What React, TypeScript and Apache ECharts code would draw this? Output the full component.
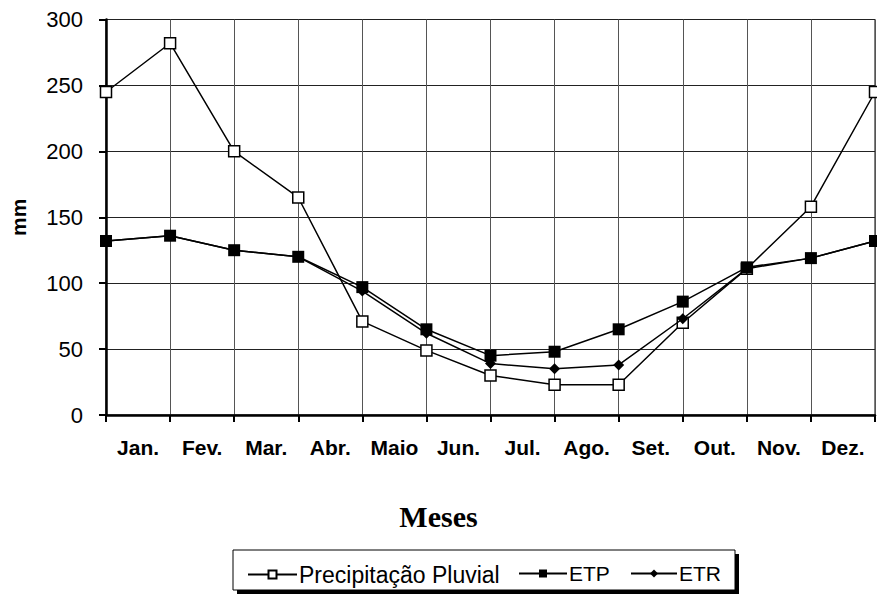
import React, { useEffect, useRef } from "react";
import * as echarts from "echarts";

const months = ["Jan.", "Fev.", "Mar.", "Abr.", "Maio", "Jun.", "Jul.", "Ago.", "Set.", "Out.", "Nov.", "Dez."];
// 13 plotted points: one at each boundary line (last one closes the year)
const pointCategories = [...months, "Jan.*"];
const precipitacao = [245, 282, 200, 165, 71, 49, 30, 23, 23, 70, 111, 158, 245];
const etp = [132, 136, 125, 120, 97, 65, 45, 48, 65, 86, 112, 119, 132];
const etr = [132, 136, 125, 120, 94, 62, 39, 35, 38, 73, 111, 119, 132];
const yMin = 0;
const yMax = 300;
const yInterval = 50;

const SANS = "Liberation Sans, Arial, sans-serif";

export default function App() {
  const ref = useRef<HTMLDivElement>(null);

  useEffect(() => {
    if (!ref.current) return;
    const chart = echarts.init(ref.current, undefined, { renderer: "svg" });
    const lineStyle = { color: "#000", width: 1.5 };
    const legendText = { fontFamily: SANS, fontSize: 21, color: "#000", padding: [0, 0, 0, -3] };
    chart.setOption({
      animation: false,
      backgroundColor: "#fff",
      title: {
        text: "Meses",
        left: "center",
        top: 496,
        textStyle: { fontFamily: "Liberation Serif, Times New Roman, serif", fontWeight: "bold", fontSize: 30, color: "#000" },
      },
      grid: { left: 104, right: 2, top: 19.5, bottom: 181, show: true, borderColor: "#000", borderWidth: 1 },
      xAxis: [
        {
          type: "category",
          data: pointCategories,
          boundaryGap: false,
          position: "bottom",
          axisLine: { show: true, lineStyle: { color: "#000", width: 2.5 } },
          axisTick: { show: true, length: 7, lineStyle: { color: "#000", width: 2 } },
          axisLabel: { show: false },
          splitLine: { show: true, lineStyle: { color: "#555", width: 1 } },
        },
        {
          type: "category",
          data: months,
          boundaryGap: true,
          position: "bottom",
          axisLine: { show: false },
          axisTick: { show: false },
          splitLine: { show: false },
          axisLabel: {
            interval: 0,
            margin: 22,
            color: "#000",
            fontFamily: SANS,
            fontWeight: "bold",
            fontSize: 21,
          },
        },
      ],
      yAxis: {
        type: "value",
        min: yMin,
        max: yMax,
        interval: yInterval,
        name: "mm",
        nameLocation: "middle",
        nameGap: 77,
        nameTextStyle: { fontFamily: SANS, fontWeight: "bold", fontSize: 21, color: "#000" },
        axisLine: { show: true, lineStyle: { color: "#000", width: 2.5 } },
        axisTick: { show: true, length: 7, lineStyle: { color: "#000", width: 2 } },
        axisLabel: { margin: 23, color: "#000", fontFamily: SANS, fontSize: 22 },
        splitLine: { show: true, lineStyle: { color: "#222", width: 1 } },
      },
      graphic: [
        { type: "rect", z: 0, shape: { x: 237, y: 554, width: 502, height: 40 }, style: { fill: "#000" } },
        { type: "rect", z: 1, shape: { x: 233, y: 550, width: 502, height: 40 }, style: { fill: "#fff", stroke: "#000", lineWidth: 1 } },
      ],
      legend: [
        {
          left: 247,
          top: 563,
          padding: 0,
          itemWidth: 49,
          itemHeight: 10,
          textStyle: { ...legendText, fontSize: 23 },
          data: ["Precipitação Pluvial"],
        },
        {
          left: 518,
          top: 563,
          padding: 0,
          itemWidth: 48,
          itemHeight: 10,
          textStyle: legendText,
          data: ["ETP"],
        },
        {
          left: 630,
          top: 563,
          padding: 0,
          itemWidth: 46,
          itemHeight: 10,
          textStyle: legendText,
          data: ["ETR"],
        },
      ],
      series: [
        {
          name: "Precipitação Pluvial",
          type: "line",
          xAxisIndex: 0,
          data: precipitacao,
          symbol: "rect",
          symbolSize: 11,
          lineStyle,
          itemStyle: { color: "#fff", borderColor: "#000", borderWidth: 1.5 },
          z: 3,
        },
        {
          name: "ETR",
          type: "line",
          xAxisIndex: 0,
          data: etr,
          symbol: "diamond",
          symbolSize: 11,
          lineStyle,
          itemStyle: { color: "#000", borderColor: "#000", borderWidth: 0 },
          z: 4,
        },
        {
          name: "ETP",
          type: "line",
          xAxisIndex: 0,
          data: etp,
          symbol: "rect",
          symbolSize: 12,
          lineStyle,
          itemStyle: { color: "#000", borderColor: "#000", borderWidth: 0 },
          z: 5,
        },
      ],
    });
    return () => chart.dispose();
  }, []);

  return <div ref={ref} style={{ position: "fixed", left: 0, top: 0, width: 877, height: 596 }} />;
}
